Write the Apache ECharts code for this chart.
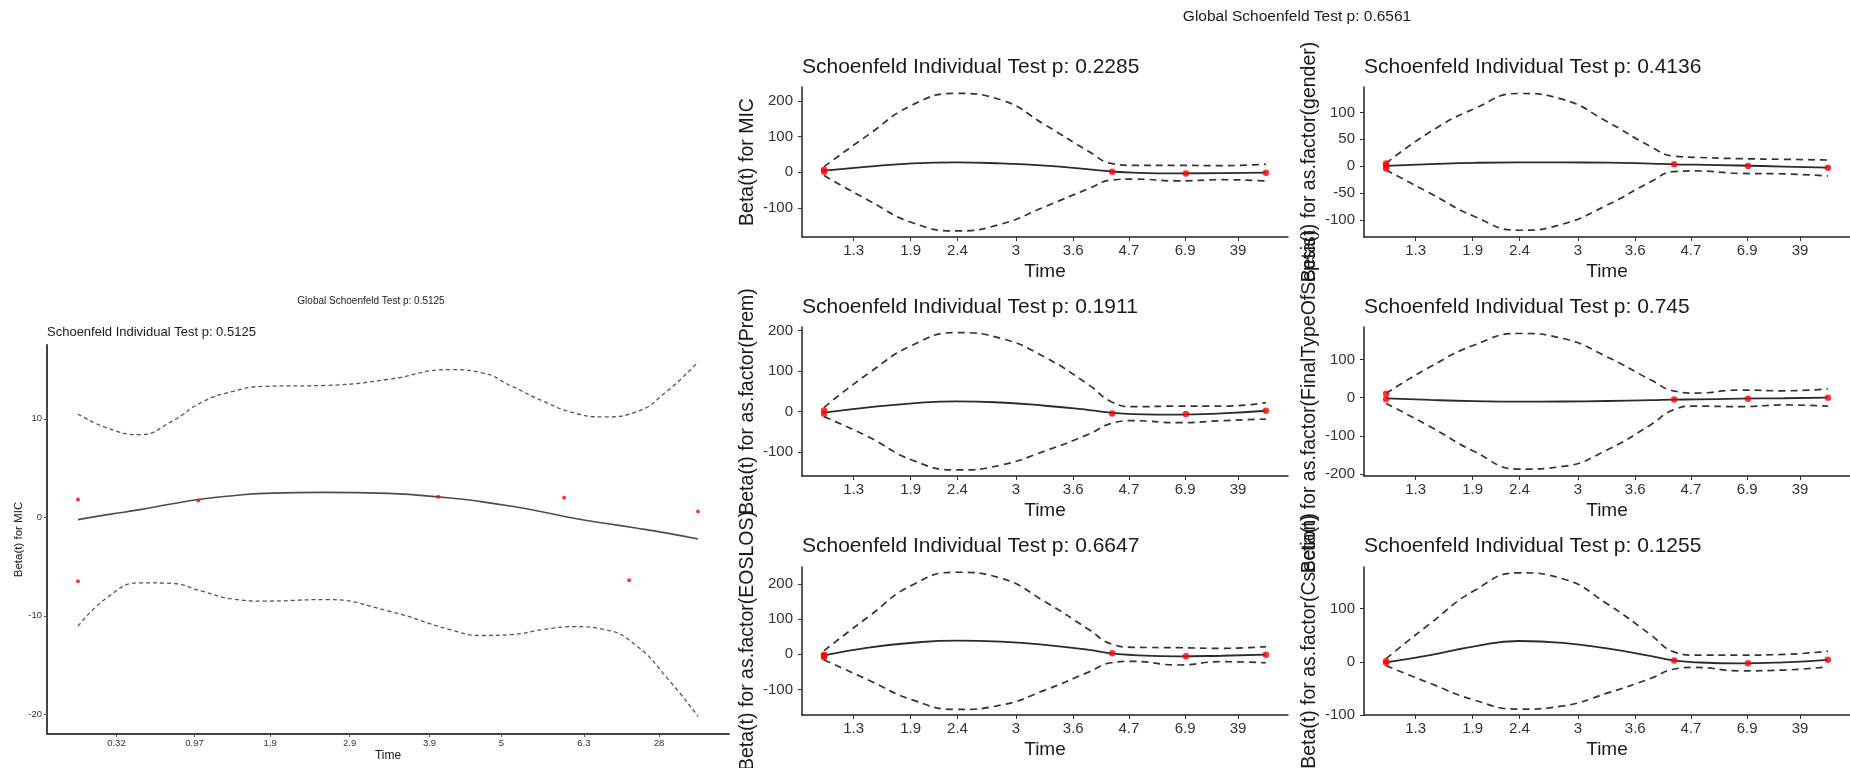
<!DOCTYPE html>
<html>
<head>
<meta charset="utf-8">
<script src="https://cdn.jsdelivr.net/npm/echarts@6/dist/echarts.min.js"></script>
<style>
  html, body { margin: 0; padding: 0; background: #ffffff; }
  #chart { width: 1850px; height: 768px; }
</style>
</head>
<body>
<div id="chart"></div>
<script>
// Time axis is the rank-transformed event time: 0 = first event, 1 = last event.

// ---- single-covariate model (MIC only) ----
const singleTickT = [0.062, 0.188, 0.310, 0.438, 0.567, 0.683, 0.816, 0.937];
const singleTickLabels = ['0.32', '0.97', '1.9', '2.9', '3.9', '5', '6.3', '28'];
const singleCurveT = [0, 0.05, 0.1, 0.15, 0.2, 0.25, 0.3, 0.4, 0.5, 0.6, 0.65, 0.7, 0.75, 0.8, 0.85, 0.9, 0.95, 1];
const singleFit   = [-0.23, 0.3, 0.78, 1.35, 1.86, 2.2, 2.43, 2.54, 2.43, 1.96, 1.6, 1.12, 0.55, -0.1, -0.6, -1.08, -1.6, -2.2];
const singleUpper = [10.5, 9.0, 8.4, 9.7, 11.7, 12.8, 13.3, 13.4, 14.0, 15.0, 14.7, 13.3, 11.8, 10.6, 10.2, 10.7, 12.8, 15.8];
const singleLower = [-11.05, -8.0, -6.65, -6.7, -7.5, -8.3, -8.5, -8.35, -9.5, -11.4, -12.0, -11.9, -11.4, -11.1, -11.4, -13.0, -16.3, -20.2];
const singleResidT = [0, 0, 0.194, 0.581, 0.784, 0.889, 1];
const singleResidY = [1.8, -6.5, 1.7, 2.1, 2.0, -6.4, 0.6];
const singleYTicks = [-20, -10, 0, 10];

// ---- multivariable model ----
const multiTickT = [0.067, 0.196, 0.302, 0.434, 0.564, 0.690, 0.817, 0.937];
const multiTickLabels = ['1.3', '1.9', '2.4', '3', '3.6', '4.7', '6.9', '39'];
const multiCurveT = [0, 0.1, 0.2, 0.3, 0.4, 0.5, 0.6, 0.65, 0.7, 0.8, 0.9, 1];

const micFit   = [4.7, 16, 25, 28, 25, 18.7, 8.4, 2.5, -1, -3, -2, -1];
const micUpper = [16, 105, 189, 221, 203, 133, 58, 25, 19.6, 19.6, 18.7, 23];
const micLower = [-9, -78, -141, -164, -145, -96, -45, -21.5, -18.7, -24, -20.6, -24];
const micResidT = [0, 0, 0.652, 0.819, 1];
const micResidY = [7, 2, 2, -3, -1];

const genderFit   = [1, 4, 6.5, 7.4, 7.2, 6.8, 5, 3.7, 3, 1.5, -0.5, -2.5];
const genderUpper = [5.5, 64, 107, 135, 124, 83, 36, 19, 16.7, 14.2, 13, 11.7];
const genderLower = [-7, -50, -93, -118.5, -107, -72, -28, -10, -8.6, -13, -14, -18];
const genderResidT = [0, 0, 0, 0.652, 0.819, 1];
const genderResidY = [5, 1, -4, 3.7, 0.6, -2.5];

const premFit   = [-3.3, 10, 20, 25, 22, 14, 3.3, -3.3, -6.6, -8, -5, 1.6];
const premUpper = [10, 94, 164, 195, 181, 134, 65, 24, 11.6, 13, 13, 21.5];
const premLower = [-13, -63, -121, -145, -133, -98, -56, -30, -23, -28, -23, -19];
const premResidT = [0, 0, 0.652, 0.819, 1];
const premResidY = [2, -6, -5, -6.6, 1.6];

const sepsisFit   = [-2, -6, -9, -10.5, -10, -8.7, -6.5, -5, -4.5, -2.6, -1.5, 0];
const sepsisUpper = [11, 81, 138, 168, 155, 107, 46, 18, 12, 20, 18, 22.7];
const sepsisLower = [-15, -76, -141, -187, -180, -137, -70, -32, -22, -23.5, -19, -22];
const sepsisResidT = [0, 0, 0.652, 0.819, 1];
const sepsisResidY = [10, -4, -5, -2.6, 0];

const eoslosFit   = [-3, 19, 33, 39, 36, 27, 12.4, 3, -2, -5.7, -4, -1];
const eoslosUpper = [10.5, 107, 198, 234, 217, 150, 70, 29.5, 20, 19, 17, 22];
const eoslosLower = [-16, -73, -130, -157, -145, -102, -50, -24, -20, -30.5, -21, -24];
const eoslosResidT = [0, 0, 0, 0.652, 0.819, 1];
const eoslosResidY = [-1, -5, -8, 3, -5.7, -1];

const csectionFit   = [-1, 12.5, 29, 39, 35.6, 25, 10.6, 2.5, -1, -3, -1, 3.7];
const csectionUpper = [6, 72, 134, 167, 156, 109, 50, 19, 12.5, 12.5, 13.7, 20];
const csectionLower = [-7.5, -40.6, -72, -89, -83, -59, -31, -14, -10.6, -17, -15.6, -9.4];
const csectionResidT = [0, 0, 0.652, 0.819, 1];
const csectionResidY = [1, -2, 2.5, -3, 3.7];

const multiTitles = [
  'Schoenfeld Individual Test p: 0.2285',
  'Schoenfeld Individual Test p: 0.4136',
  'Schoenfeld Individual Test p: 0.1911',
  'Schoenfeld Individual Test p: 0.745',
  'Schoenfeld Individual Test p: 0.6647',
  'Schoenfeld Individual Test p: 0.1255'
];
const multiYNames = [
  'Beta(t) for MIC',
  'Beta(t) for as.factor(gender)',
  'Beta(t) for as.factor(Prem)',
  'Beta(t) for as.factor(FinalTypeOfSepsis)',
  'Beta(t) for as.factor(EOSLOS)',
  'Beta(t) for as.factor(Csection)'
];
const multiYTicks = [
  [-100, 0, 100, 200],
  [-100, -50, 0, 50, 100],
  [-100, 0, 100, 200],
  [-200, -100, 0, 100],
  [-100, 0, 100, 200],
  [-100, 0, 100]
];
const multiYRange = [[-181, 239], [-131, 147], [-160, 209], [-205, 185], [-173, 249], [-100, 178]];
const multiFits   = [micFit, genderFit, premFit, sepsisFit, eoslosFit, csectionFit];
const multiUppers = [micUpper, genderUpper, premUpper, sepsisUpper, eoslosUpper, csectionUpper];
const multiLowers = [micLower, genderLower, premLower, sepsisLower, eoslosLower, csectionLower];
const multiResidT = [micResidT, genderResidT, premResidT, sepsisResidT, eoslosResidT, csectionResidT];
const multiResidY = [micResidY, genderResidY, premResidY, sepsisResidY, eoslosResidY, csectionResidY];

const singleGlobal = 'Global Schoenfeld Test p: 0.5125';
const singleTitle = 'Schoenfeld Individual Test p: 0.5125';
const multiGlobal = 'Global Schoenfeld Test p: 0.6561';

// ---------------------------------------------------------------
const FONT = '"Liberation Sans", Arial, Helvetica, sans-serif';
const pair = (xs, ys) => xs.map((x, i) => [x, ys[i]]);

const grids = [
  { left: 47, top: 345, width: 682, height: 389 },
  { left: 802, top: 87, width: 486, height: 150 },
  { left: 1364, top: 87, width: 486, height: 150 },
  { left: 802, top: 327, width: 486, height: 149 },
  { left: 1364, top: 327, width: 486, height: 149 },
  { left: 802, top: 567, width: 486, height: 148 },
  { left: 1364, top: 567, width: 486, height: 148 }
].map(g => Object.assign({ outerBoundsMode: 'none', containLabel: false }, g));

const xAxes = [];
const yAxes = [];
const series = [];

function addPanel(idx, opts) {
  const big = opts.big;
  xAxes.push({
    type: 'value', gridIndex: idx, min: -0.05, max: 1.05,
    name: 'Time', nameLocation: 'middle', nameGap: big ? 25 : 16,
    nameMoveOverlap: false,
    nameTextStyle: { fontFamily: FONT, fontSize: big ? 19 : 12, color: '#1a1a1a' },
    axisLine: { show: true, onZero: false, lineStyle: { color: big ? '#222' : '#444', width: big ? 1.5 : 2 } },
    axisTick: { show: true, length: big ? 4 : 3, customValues: opts.xTicks, lineStyle: { color: big ? '#333' : '#555', width: 1 } },
    axisLabel: {
      customValues: opts.xTicks, margin: big ? 6 : 4,
      fontFamily: FONT, fontSize: big ? 15 : 9.5, color: '#333',
      formatter: v => opts.xLabels[opts.xTicks.indexOf(v)]
    },
    splitLine: { show: false }
  });
  yAxes.push({
    type: 'value', gridIndex: idx, min: opts.yRange[0], max: opts.yRange[1],
    name: opts.yName, nameLocation: 'middle', nameGap: big ? 44 : 22,
    nameMoveOverlap: false,
    nameTextStyle: { fontFamily: FONT, fontSize: big ? 19.5 : 11.5, color: '#1a1a1a' },
    axisLine: { show: true, onZero: false, lineStyle: { color: big ? '#222' : '#444', width: big ? 1.5 : 2 } },
    axisTick: { show: true, length: big ? 4 : 3, customValues: opts.yTicks, lineStyle: { color: big ? '#333' : '#555', width: 1 } },
    axisLabel: {
      customValues: opts.yTicks, margin: big ? 9 : 5,
      fontFamily: FONT, fontSize: big ? 15 : 9.5, color: '#333'
    },
    splitLine: { show: false }
  });
  const dash = {
    type: 'line', xAxisIndex: idx, yAxisIndex: idx, smooth: 0.5,
    symbol: 'none', silent: true,
    lineStyle: big
      ? { color: '#333', width: 1.7, type: [7, 5] }
      : { color: '#555', width: 1.3, type: [4, 3] }
  };
  series.push(Object.assign({}, dash, { data: pair(opts.curveT, opts.upper) }));
  series.push(Object.assign({}, dash, { data: pair(opts.curveT, opts.lower) }));
  series.push({
    type: 'line', xAxisIndex: idx, yAxisIndex: idx, smooth: 0.5,
    symbol: 'none', silent: true,
    lineStyle: big ? { color: '#2b2b2b', width: 1.8 } : { color: '#4d4d4d', width: 1.6 },
    data: pair(opts.curveT, opts.fit)
  });
  series.push({
    type: 'scatter', xAxisIndex: idx, yAxisIndex: idx, silent: true,
    symbol: 'circle', symbolSize: big ? 6.5 : 4,
    itemStyle: { color: '#ff0000' }, z: 5,
    data: pair(opts.residT, opts.residY)
  });
}

addPanel(0, {
  big: false, xTicks: singleTickT, xLabels: singleTickLabels,
  yTicks: singleYTicks, yRange: [-22, 17.5], yName: 'Beta(t) for MIC',
  curveT: singleCurveT, fit: singleFit, upper: singleUpper, lower: singleLower,
  residT: singleResidT, residY: singleResidY
});
for (let k = 0; k < 6; k++) {
  addPanel(k + 1, {
    big: true, xTicks: multiTickT, xLabels: multiTickLabels,
    yTicks: multiYTicks[k], yRange: multiYRange[k], yName: multiYNames[k],
    curveT: multiCurveT, fit: multiFits[k], upper: multiUppers[k], lower: multiLowers[k],
    residT: multiResidT[k], residY: multiResidY[k]
  });
}

// Titles
const graphics = [
  { type: 'text', x: 371, y: 301, style: { text: singleGlobal, font: '10px ' + FONT, fill: '#1a1a1a', align: 'center', verticalAlign: 'middle' } },
  { type: 'text', x: 47, y: 332, style: { text: singleTitle, font: '13px ' + FONT, fill: '#1a1a1a', align: 'left', verticalAlign: 'middle' } },
  { type: 'text', x: 1297, y: 17, style: { text: multiGlobal, font: '15.5px ' + FONT, fill: '#1a1a1a', align: 'center', verticalAlign: 'middle' } }
];
const titleCentersY = [67, 67, 307, 307, 546, 546];
multiTitles.forEach((t, k) => {
  const g = grids[k + 1];
  graphics.push({ type: 'text', x: g.left, y: titleCentersY[k],
    style: { text: t, font: '21px ' + FONT, fill: '#1a1a1a', align: 'left', verticalAlign: 'middle' } });
});

const chart = echarts.init(document.getElementById('chart'), null, { renderer: 'canvas' });
chart.setOption({
  backgroundColor: '#ffffff',
  animation: false,
  grid: grids,
  xAxis: xAxes,
  yAxis: yAxes,
  series: series,
  graphic: graphics
});
</script>
</body>
</html>
